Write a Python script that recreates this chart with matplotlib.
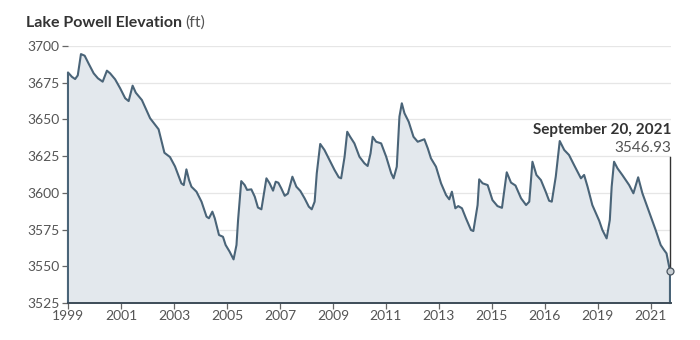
import matplotlib
matplotlib.use("Agg")
import matplotlib.pyplot as plt

plt.rcParams['font.family'] = ['Lato', 'DejaVu Sans']

# Lake Powell surface elevation (ft), decimal year
years = [
    1999.00, 1999.15, 1999.27, 1999.37, 1999.49, 1999.63, 1999.78, 1999.97,
    2000.13, 2000.31, 2000.47, 2000.59, 2000.78, 2000.97, 2001.16, 2001.29,
    2001.44, 2001.56, 2001.79, 2002.10, 2002.42, 2002.64, 2002.85, 2003.04,
    2003.28, 2003.37, 2003.47, 2003.57, 2003.66, 2003.85, 2004.04, 2004.23,
    2004.32, 2004.45, 2004.54, 2004.70, 2004.85, 2004.95, 2005.10, 2005.25,
    2005.36, 2005.42, 2005.54, 2005.67, 2005.76, 2005.92, 2006.05, 2006.17,
    2006.30, 2006.40, 2006.49, 2006.61, 2006.74, 2006.84, 2006.94, 2007.05,
    2007.18, 2007.30, 2007.47, 2007.62, 2007.77, 2007.93, 2008.09, 2008.20,
    2008.31, 2008.39, 2008.52, 2008.68, 2008.87, 2009.06, 2009.22, 2009.31,
    2009.44, 2009.54, 2009.65, 2009.81, 2010.00, 2010.19, 2010.31, 2010.42,
    2010.50, 2010.63, 2010.82, 2011.01, 2011.20, 2011.29, 2011.41, 2011.51,
    2011.60, 2011.70, 2011.86, 2012.04, 2012.20, 2012.45, 2012.58, 2012.70,
    2012.89, 2013.08, 2013.27, 2013.39, 2013.49, 2013.62, 2013.73, 2013.87,
    2014.02, 2014.21, 2014.30, 2014.46, 2014.52, 2014.65, 2014.84, 2015.02,
    2015.21, 2015.38, 2015.47, 2015.56, 2015.72, 2015.89, 2016.10, 2016.29,
    2016.41, 2016.53, 2016.68, 2016.85, 2017.03, 2017.16, 2017.26, 2017.41,
    2017.56, 2017.73, 2017.91, 2018.10, 2018.36, 2018.48, 2018.61, 2018.79,
    2019.05, 2019.17, 2019.33, 2019.45, 2019.52, 2019.61, 2019.74, 2019.92,
    2020.18, 2020.34, 2020.52, 2020.68, 2020.93, 2021.18, 2021.37, 2021.50,
    2021.59, 2021.72,
]
elevation_ft = [
    3682.0, 3679.0, 3677.5, 3680.0, 3694.5, 3693.4, 3688.0, 3681.4,
    3678.0, 3675.7, 3683.2, 3681.4, 3677.3, 3671.2, 3664.4, 3662.5,
    3673.0, 3668.2, 3663.2, 3650.8, 3643.3, 3627.3, 3624.4, 3618.0,
    3606.5, 3605.3, 3616.0, 3608.7, 3604.2, 3600.8, 3594.0, 3583.8,
    3582.7, 3587.2, 3582.7, 3571.3, 3570.1, 3564.5, 3560.0, 3554.7,
    3564.5, 3581.5, 3608.0, 3605.3, 3602.0, 3602.4, 3597.4, 3590.0,
    3588.8, 3599.7, 3609.9, 3606.5, 3601.5, 3607.6, 3606.9, 3603.1,
    3598.0, 3599.5, 3611.0, 3604.2, 3601.3, 3596.3, 3590.6, 3588.8,
    3594.0, 3613.3, 3633.3, 3629.2, 3622.4, 3615.6, 3610.6, 3609.9,
    3624.6, 3641.6, 3638.2, 3633.7, 3624.6, 3620.1, 3618.3, 3626.9,
    3638.2, 3634.8, 3633.7, 3624.6, 3613.3, 3609.9, 3617.8, 3651.9,
    3661.0, 3654.2, 3648.4, 3638.2, 3634.8, 3636.5, 3630.3, 3623.5,
    3617.8, 3606.5, 3598.5, 3595.6, 3600.8, 3589.5, 3591.0, 3589.5,
    3582.7, 3574.7, 3574.0, 3591.7, 3609.2, 3606.5, 3605.3, 3595.1,
    3591.0, 3589.8, 3601.9, 3614.0, 3607.0, 3605.0, 3596.3, 3591.7,
    3594.0, 3621.2, 3612.2, 3608.7, 3600.8, 3594.6, 3594.0, 3611.0,
    3635.3, 3629.2, 3625.8, 3619.0, 3609.9, 3612.2, 3604.2, 3591.7,
    3581.0, 3574.7, 3569.0, 3581.5, 3604.2, 3621.2, 3616.7, 3612.2,
    3605.3, 3599.7, 3610.6, 3599.7, 3587.2, 3574.7, 3564.5, 3561.0,
    3558.8, 3546.93,
]

y_ticks = [3525, 3550, 3575, 3600, 3625, 3650, 3675, 3700]
tick_years = [1999, 2001, 2003, 2005, 2007, 2009, 2011, 2013, 2015, 2017, 2019, 2021]
tick_labels = ['1999', '2001', '2003', '2005', '2007', '2009', '2011', '2013',
               '2015', '2016', '2019', '2021']

last_date = 'September 20, 2021'
last_value = elevation_ft[-1]

LINE = '#4a6478'
FILL = '#e3e8ed'
TEXT = '#555555'

fig = plt.figure(figsize=(7, 3.4), dpi=100)
ax = fig.add_axes([0.0971, 0.1088, 0.8615, 0.7559])

y0 = y_ticks[0]
ax.fill_between(years, elevation_ft, y0, color=FILL, lw=0, zorder=1)
ax.plot([years[0]] + years + [years[-1]], [y0] + elevation_ft + [y0],
        color=LINE, lw=1.5, solid_joinstyle='round', zorder=3, clip_on=False)

# end-point marker and callout
ax.plot([years[-1], years[-1]], [last_value, 3624.4], color='#333333', lw=1.0,
        zorder=4, clip_on=False)
ax.plot(years[-1], last_value, 'o', ms=5, mfc='#c8ced3', mec='#4a5560', mew=0.9,
        zorder=5, clip_on=False)
ax.text(years[-1] + 0.06, 3642.8, last_date, ha='right', va='center',
        fontsize=11, fontweight='bold', color='#333333')
ax.text(years[-1] + 0.06, 3630.5, '%.2f' % last_value, ha='right', va='center',
        fontsize=11, color='#555555')

ax.set_xlim(years[0], years[-1] + 0.04)
ax.set_ylim(y_ticks[0], y_ticks[-1])
ax.set_yticks(y_ticks)
ax.set_xticks(tick_years)
ax.set_xticklabels(tick_labels)
ax.grid(axis='y', color='#e6e6e6', lw=0.9, zorder=0)
ax.set_axisbelow(True)

for side in ['top', 'right', 'left']:
    ax.spines[side].set_visible(False)
ax.spines['bottom'].set_color('#3d4b57')
ax.spines['bottom'].set_linewidth(1.4)
ax.spines['bottom'].set_zorder(6)

ax.tick_params(axis='y', length=4, width=0.9, color='#666666', pad=2,
               labelsize=10, labelcolor=TEXT)
ax.tick_params(axis='x', length=4, width=0.9, color='#666666', pad=1,
               labelsize=10, labelcolor=TEXT)

# title: bold name, regular unit
t = fig.text(26 / 700, 1 - 23 / 340, 'Lake Powell Elevation', fontsize=11.5,
             fontweight='bold', color='#333333', va='center')
fig.canvas.draw()
bb = t.get_window_extent(fig.canvas.get_renderer())
fig.text(bb.x1 / 700 + 0.005, 1 - 23 / 340, '(ft)', fontsize=11.5,
         color='#555555', va='center')

fig.savefig('out.png', dpi=100)
